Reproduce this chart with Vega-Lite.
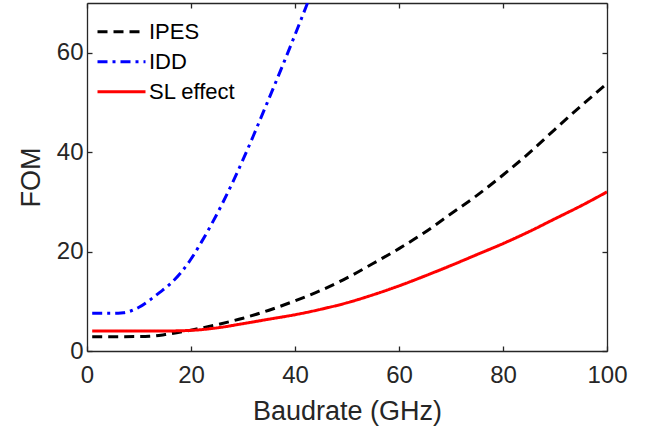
{
  "$schema": "https://vega.github.io/schema/vega-lite/v6.json",
  "width": 520,
  "height": 348,
  "autosize": {"type": "none"},
  "padding": {"left": 87, "top": 3, "right": 45, "bottom": 82},
  "background": "white",
  "config": {
    "view": {"stroke": null},
    "font": "Liberation Sans",
    "axis": {
      "domainColor": "#262626", "domainWidth": 1.3,
      "tickColor": "#262626", "tickWidth": 1.3, "tickSize": -5,
      "labelColor": "#262626", "labelFontSize": 24, "labelFont": "Liberation Sans", "labelFlush": false,
      "titleColor": "#262626", "titleFontSize": 27, "titleFont": "Liberation Sans", "titleFontWeight": "normal",
      "grid": false
    }
  },
  "data": {"values": [
    {"s": "IPES", "x": 1, "y": 2.88}, {"s": "IPES", "x": 5, "y": 2.88}, {"s": "IPES", "x": 10, "y": 2.9}, {"s": "IPES", "x": 12, "y": 2.95},
    {"s": "IPES", "x": 15, "y": 3.3}, {"s": "IPES", "x": 20, "y": 4.2}, {"s": "IPES", "x": 25, "y": 5.3}, {"s": "IPES", "x": 30, "y": 6.6},
    {"s": "IPES", "x": 35, "y": 8.2}, {"s": "IPES", "x": 40, "y": 10.1}, {"s": "IPES", "x": 45, "y": 12.2}, {"s": "IPES", "x": 50, "y": 14.7},
    {"s": "IPES", "x": 55, "y": 17.6}, {"s": "IPES", "x": 60, "y": 20.6}, {"s": "IPES", "x": 65, "y": 23.9}, {"s": "IPES", "x": 70, "y": 27.6},
    {"s": "IPES", "x": 75, "y": 31.3}, {"s": "IPES", "x": 80, "y": 35.4}, {"s": "IPES", "x": 85, "y": 39.8}, {"s": "IPES", "x": 90, "y": 44.6},
    {"s": "IPES", "x": 95, "y": 49.3}, {"s": "IPES", "x": 100, "y": 53.8},
    {"s": "IDD", "x": 1, "y": 7.58}, {"s": "IDD", "x": 4, "y": 7.58}, {"s": "IDD", "x": 6, "y": 7.6}, {"s": "IDD", "x": 7, "y": 7.68},
    {"s": "IDD", "x": 8, "y": 7.9}, {"s": "IDD", "x": 9, "y": 8.3}, {"s": "IDD", "x": 10, "y": 8.8}, {"s": "IDD", "x": 12, "y": 10.2}, {"s": "IDD", "x": 14, "y": 11.8},
    {"s": "IDD", "x": 16, "y": 13.5}, {"s": "IDD", "x": 18, "y": 15.7}, {"s": "IDD", "x": 20, "y": 18.5}, {"s": "IDD", "x": 22, "y": 21.9},
    {"s": "IDD", "x": 24, "y": 25.6}, {"s": "IDD", "x": 26, "y": 29.6}, {"s": "IDD", "x": 28, "y": 33.9}, {"s": "IDD", "x": 30, "y": 38.5},
    {"s": "IDD", "x": 32, "y": 43.3}, {"s": "IDD", "x": 34, "y": 48.3}, {"s": "IDD", "x": 36, "y": 53.3}, {"s": "IDD", "x": 38, "y": 58.4},
    {"s": "IDD", "x": 40, "y": 63.6}, {"s": "IDD", "x": 42, "y": 68.9}, {"s": "IDD", "x": 44, "y": 74.3},
    {"s": "SL effect", "x": 1, "y": 4.0}, {"s": "SL effect", "x": 5, "y": 4.0}, {"s": "SL effect", "x": 10, "y": 4.0}, {"s": "SL effect", "x": 15, "y": 4.02},
    {"s": "SL effect", "x": 20, "y": 4.15}, {"s": "SL effect", "x": 25, "y": 4.65}, {"s": "SL effect", "x": 30, "y": 5.5}, {"s": "SL effect", "x": 35, "y": 6.4},
    {"s": "SL effect", "x": 40, "y": 7.3}, {"s": "SL effect", "x": 45, "y": 8.4}, {"s": "SL effect", "x": 50, "y": 9.7}, {"s": "SL effect", "x": 55, "y": 11.3},
    {"s": "SL effect", "x": 60, "y": 13.1}, {"s": "SL effect", "x": 65, "y": 15.1}, {"s": "SL effect", "x": 70, "y": 17.2}, {"s": "SL effect", "x": 75, "y": 19.4},
    {"s": "SL effect", "x": 80, "y": 21.6}, {"s": "SL effect", "x": 85, "y": 24.0}, {"s": "SL effect", "x": 90, "y": 26.6}, {"s": "SL effect", "x": 95, "y": 29.2},
    {"s": "SL effect", "x": 100, "y": 32.0}
  ]},
  "layer": [
    {
      "mark": {"type": "line", "strokeWidth": 3, "clip": true, "interpolate": "monotone"},
      "encoding": {
        "x": {"field": "x", "type": "quantitative", "scale": {"domain": [0, 100], "nice": false},
              "axis": {"values": [0, 20, 40, 60, 80, 100], "title": "Baudrate (GHz)", "labelPadding": 17, "titlePadding": 11}},
        "y": {"field": "y", "type": "quantitative", "scale": {"domain": [0, 70], "nice": false},
              "axis": {"values": [0, 20, 40, 60], "title": "FOM", "labelPadding": 9, "titlePadding": 11}},
        "color": {"field": "s", "type": "nominal",
                  "scale": {"domain": ["IPES", "IDD", "SL effect"], "range": ["#000000", "#0000ff", "#ff0000"]},
                  "legend": {"orient": "none", "legendX": 9, "legendY": 14, "title": null,
                             "symbolType": "stroke", "symbolSize": 2304, "symbolStrokeWidth": 3,
                             "labelFontSize": 22, "labelColor": "#000000", "labelFont": "Liberation Sans",
                             "labelOffset": 2, "rowPadding": 0, "clipHeight": 29.5}},
        "strokeDash": {"field": "s", "type": "nominal",
                       "scale": {"domain": ["IPES", "IDD", "SL effect"], "range": [[10, 6], [10, 5, 3, 5], [1, 0]]},
                       "legend": null}
      }
    },
    {
      "mark": {"type": "line", "strokeOpacity": 0},
      "encoding": {
        "x": {"field": "x", "type": "quantitative", "axis": {"orient": "top", "values": [0, 20, 40, 60, 80, 100], "labels": false, "title": null}},
        "y": {"field": "y", "type": "quantitative", "axis": {"orient": "right", "values": [0, 20, 40, 60], "labels": false, "title": null}},
        "detail": {"field": "s"}
      }
    }
  ],
  "resolve": {"axis": {"x": "independent", "y": "independent"}}
}
